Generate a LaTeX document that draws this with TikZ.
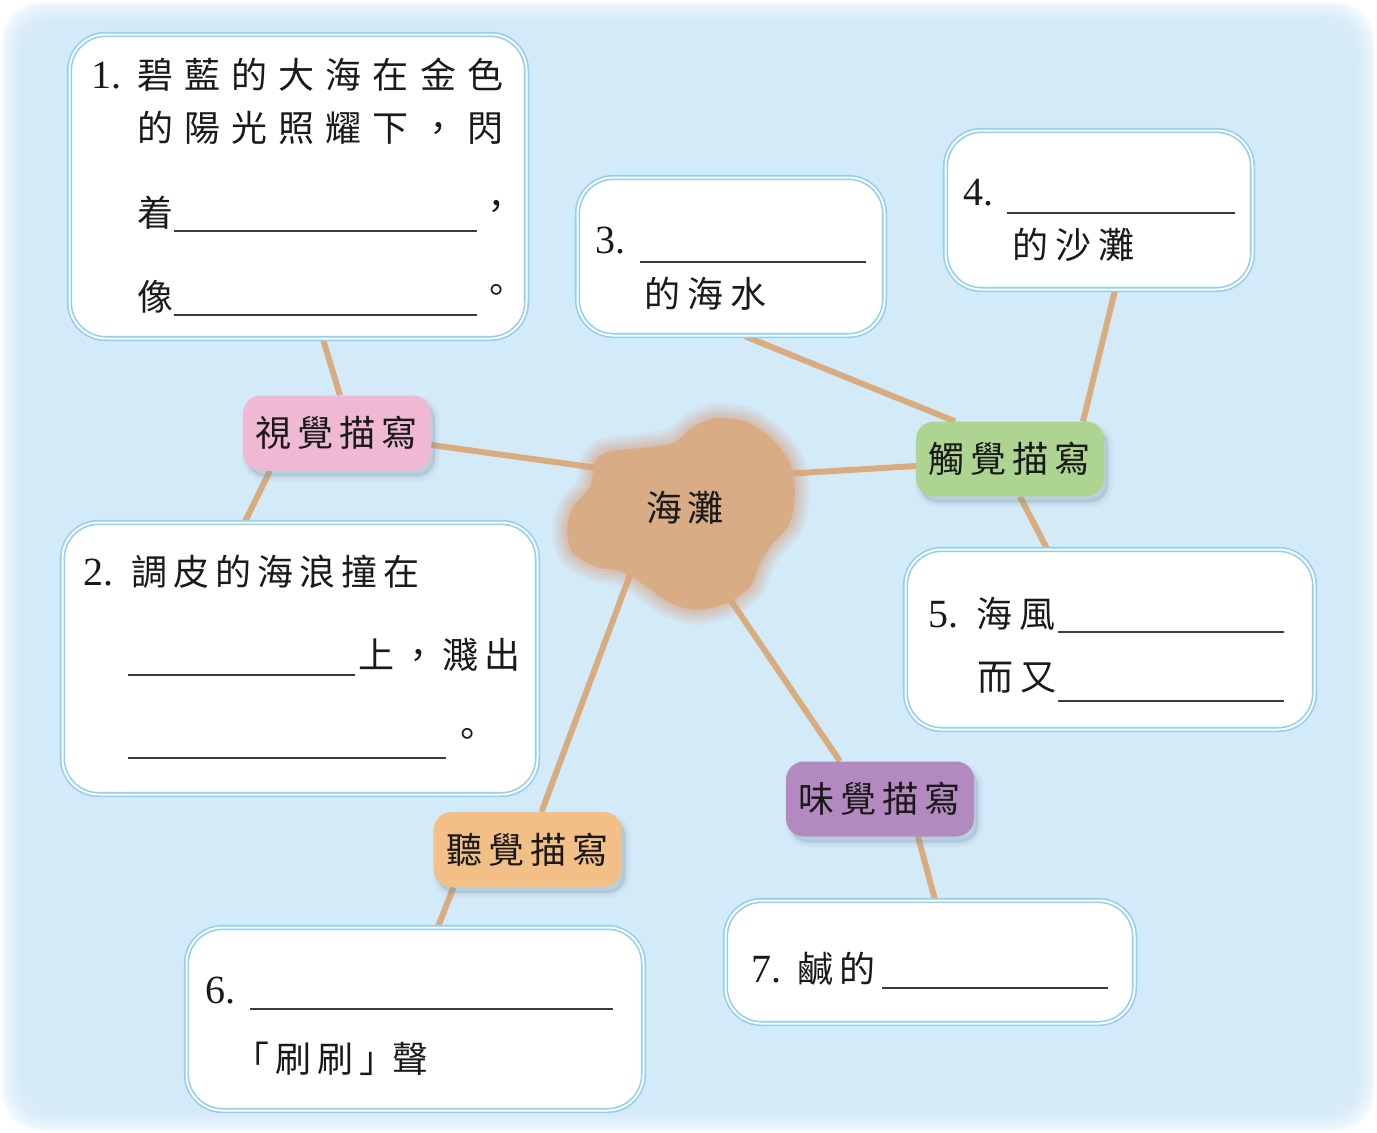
\documentclass[tikz,border=0pt]{standalone}
\usepackage{fontspec}
\setmainfont{Liberation Serif}
\newfontfamily\cjk{Noto Sans CJK TC}
\newfontfamily\cjkA[LetterSpace=31]{Noto Sans CJK TC}
\newfontfamily\cjkB[LetterSpace=16.7]{Noto Sans CJK TC}
\newfontfamily\cjkC[LetterSpace=19.4]{Noto Sans CJK TC}
\pgfdeclarelayer{back}
\pgfdeclarelayer{lines}
\pgfsetlayers{back,lines,main}
\definecolor{bgblue}{HTML}{D3EAF8}
\definecolor{rim}{HTML}{8FCFF1}
\definecolor{tanline}{HTML}{D9AC80}
\definecolor{sand}{HTML}{D8AC85}
\definecolor{halo}{HTML}{D9A383}
\definecolor{pinkL}{HTML}{EFB8D3}
\definecolor{greenL}{HTML}{AED492}
\definecolor{orangeL}{HTML}{F2BF86}
\definecolor{purpleL}{HTML}{B28ABF}
\definecolor{ink}{HTML}{1A1A1A}
\definecolor{shadowc}{HTML}{6F8799}
\tikzset{
  card/.style={draw=rim, line width=1.6pt, double=white, double distance=2pt, fill=white,
    rounded corners=36pt, inner sep=0pt},
  tag/.style={rounded corners=18pt, minimum width=188pt, minimum height=75pt, inner sep=0pt,
    font=\cjkB\fontsize{36pt}{40pt}\selectfont, text=ink,
    preaction={draw=shadowc, fill=shadowc, line width=10pt, opacity=0.05, transform canvas={xshift=4pt,yshift=-6pt}},
    preaction={draw=shadowc, fill=shadowc, line width=5pt, opacity=0.07, transform canvas={xshift=4pt,yshift=-6pt}},
    preaction={fill=shadowc, opacity=0.12, transform canvas={xshift=4pt,yshift=-6pt}}},
  conn/.style={draw=tanline, line width=6pt},
  num/.style={anchor=base west, inner sep=0pt, font=\fontsize{40pt}{44pt}\selectfont, text=ink},
  txtA/.style={anchor=base west, inner sep=0pt, font=\cjkA\fontsize{36pt}{40pt}\selectfont, text=ink},
  txtB/.style={anchor=base west, inner sep=0pt, font=\cjkB\fontsize{36pt}{40pt}\selectfont, text=ink},
  txtC/.style={anchor=base west, inner sep=0pt, font=\cjkC\fontsize{36pt}{40pt}\selectfont, text=ink},
  punct/.style={inner sep=0pt, font=\cjk\fontsize{36pt}{40pt}\selectfont, text=ink},
  blank/.style={draw=ink!85, line width=1.6pt},
}
\def\blobpts{(595,462) (607,452) (640,448) (673,443) (693,427) (717,418) (747,422) (773,440) (790,463) (795,490) (790,523) (773,543) (760,563) (750,587) (727,603) (697,610) (670,603) (647,587) (623,572) (597,567) (573,553) (567,530) (573,507) (590,487)}
\begin{document}
\begin{tikzpicture}[x=1pt,y=-1pt]
\useasboundingbox (0,0) rectangle (1377,1133);
\begin{pgfonlayer}{back}
  \fill[white] (0,0) rectangle (1377,1133);
  \foreach \i in {0,...,7} {
    \fill[bgblue, fill opacity=0.25, rounded corners=40pt] (2+3*\i,2+3*\i) rectangle (1375-3*\i,1131-3*\i);
  }
  \fill[bgblue, rounded corners=40pt] (26,26) rectangle (1351,1107);
\end{pgfonlayer}

% blob
\foreach \w/\o in {30/0.10, 24/0.12, 18/0.14, 12/0.17, 6/0.22} {
  \draw[halo, line width=\w pt, draw opacity=\o, line join=round] plot[smooth cycle] coordinates {\blobpts};
}
\fill[sand] plot[smooth cycle] coordinates {\blobpts};
\node[inner sep=0pt, font=\cjkB\fontsize{36pt}{40pt}\selectfont, text=ink] (blob) at (685,508) {海灘};

% cards
\node[card, minimum width=457pt, minimum height=304pt] (b1) at (298,186.5) {};
\node[card, minimum width=475pt, minimum height=272pt] (b2) at (300,658.5) {};
\node[card, minimum width=307pt, minimum height=158pt] (b3) at (731,256.5) {};
\node[card, minimum width=307pt, minimum height=159pt] (b4) at (1099,210) {};
\node[card, minimum width=409pt, minimum height=180pt] (b5) at (1110,639.5) {};
\node[card, minimum width=457pt, minimum height=183pt] (b6) at (415,1019) {};
\node[card, minimum width=409pt, minimum height=123pt] (b7) at (930,962) {};

% tags
\node[tag, fill=pinkL] (vis) at (337,433) {視覺描寫};
\node[tag, fill=greenL] (touch) at (1010,459) {觸覺描寫};
\node[tag, fill=orangeL] (hear) at (527.5,849.5) {聽覺描寫};
\node[tag, fill=purpleL] (taste) at (880,799) {味覺描寫};

% connectors
\begin{pgfonlayer}{lines}
  \draw[conn] ([xshift=25pt]b1.south) -- ([xshift=3pt]vis.north);
  \draw[conn] ([yshift=-12pt]vis.east) -- ([yshift=28pt]blob.center);
  \draw[conn] ([xshift=-67pt]vis.south) -- ([xshift=-55pt]b2.north);
  \draw[conn] ([xshift=-30pt]blob.center) -- ([xshift=14pt]hear.north);
  \draw[conn] ([xshift=-74pt]hear.south) -- ([xshift=23pt]b6.north);
  \draw[conn] ([xshift=-17pt]blob.center) -- ([xshift=-40pt]taste.north);
  \draw[conn] ([xshift=38pt]taste.south) -- ([xshift=5pt]b7.north);
  \draw[conn] ([yshift=28pt]blob.center) -- ([yshift=-7pt]touch.west);
  \draw[conn] ([xshift=14pt]b3.south) -- ([xshift=-55pt]touch.north);
  \draw[conn] ([xshift=16pt]b4.south) -- ([xshift=73pt]touch.north);
  \draw[conn] ([xshift=10pt]touch.south) -- ([xshift=-63pt]b5.north);
\end{pgfonlayer}

% box 1
\node[num] (n1) at (91,88) {1.};
\node[txtA] (t1a) at (137,88) {碧藍的大海在金色};
\node[txtA] (t1b) at (137,141) {的陽光照耀下，閃};
\node[txtA] (t1c) at (137,226) {着};
\draw[blank] (174,231) -- (477,231);
\node[punct] (p1c) at (496,210) {，};
\node[txtA] (t1d) at (137,310) {像};
\draw[blank] (174,315) -- (477,315);
\node[punct] (p1d) at (496,294) {。};

% box 2
\node[num] (n2) at (83,585) {2.};
\node[txtB] (t2a) at (131,585) {調皮的海浪撞在};
\draw[blank] (128,675) -- (355,675);
\node[txtB] (t2b) at (358,668) {上，濺出};
\draw[blank] (128,758) -- (446,758);
\node[punct] (p2c) at (467,738) {。};

% box 3
\node[num] (n3) at (595,253) {3.};
\draw[blank] (640,262) -- (866,262);
\node[txtC] (t3) at (644,307) {的海水};

% box 4
\node[num] (n4) at (963,205) {4.};
\draw[blank] (1007,213) -- (1235,213);
\node[txtC] (t4) at (1012,258) {的沙灘};

% box 5
\node[num] (n5) at (928,627) {5.};
\node[txtC] (t5a) at (976,627) {海風};
\draw[blank] (1058,632) -- (1284,632);
\node[txtC] (t5b) at (977,690) {而又};
\draw[blank] (1058,701) -- (1284,701);

% box 6
\node[num] (n6) at (205,1003) {6.};
\draw[blank] (250,1009) -- (613,1009);
\node[txtB] (t6) at (233,1072) {「刷刷」\kern-3pt 聲};

% box 7
\node[num] (n7) at (751,982) {7.};
\node[txtB] (t7) at (797,982) {鹹的};
\draw[blank] (882,988) -- (1108,988);
\end{tikzpicture}
\end{document}
